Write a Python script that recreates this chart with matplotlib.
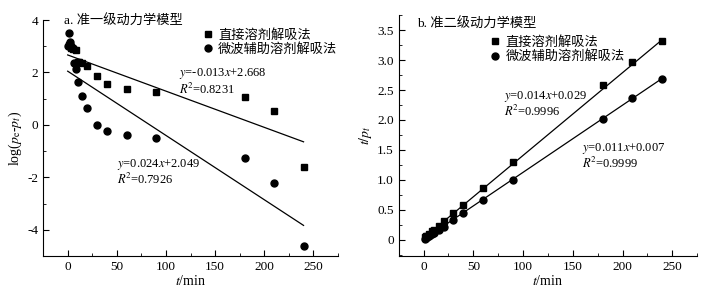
import matplotlib
matplotlib.use('Agg')
import matplotlib.pyplot as plt
from matplotlib.ticker import MultipleLocator, FuncFormatter
import numpy as np

plt.rcParams['font.family'] = ['Liberation Serif', 'Noto Sans CJK SC']
plt.rcParams['mathtext.fontset'] = 'stix'
plt.rcParams['axes.unicode_minus'] = False

# panel a: pseudo-first-order
ta_sq = [1, 2, 3, 5, 8, 10, 12, 15, 20, 30, 40, 60, 90, 180, 210, 240]
ya_sq = [3.05, 3.0, 2.95, 2.9, 2.85, 2.4, 2.4, 2.38, 2.23, 1.86, 1.57, 1.36, 1.26, 1.06, 0.52, -1.60]
ta_ci = [0, 1, 2, 3, 5, 6, 8, 10, 15, 20, 30, 40, 60, 90, 180, 210, 240]
ya_ci = [3.0, 3.51, 3.15, 3.0, 2.95, 2.38, 2.13, 1.62, 1.10, 0.63, 0.0, -0.24, -0.39, -0.49, -1.25, -2.22, -4.63]
fit_a = [(-0.0138, 2.668), (-0.0245, 2.049)]

# panel b: pseudo-second-order
tb_sq = [1, 2, 3, 5, 8, 10, 15, 20, 30, 40, 60, 90, 180, 210, 240]
yb_sq = [0.04, 0.06, 0.07, 0.10, 0.14, 0.16, 0.23, 0.31, 0.45, 0.59, 0.86, 1.30, 2.58, 2.97, 3.32]
tb_ci = [1, 2, 3, 5, 6, 8, 10, 15, 20, 30, 40, 60, 90, 180, 210, 240]
yb_ci = [0.02, 0.03, 0.05, 0.07, 0.08, 0.10, 0.12, 0.17, 0.22, 0.33, 0.45, 0.67, 1.00, 2.02, 2.36, 2.69]
fit_b = [(0.0138, 0.029), (0.0112, 0.007)]

labels = ['直接溶剂解吸法', '微波辅助溶剂解吸法']

fig = plt.figure(figsize=(7.07, 2.9), dpi=100)
ax1 = fig.add_axes([0.061, 0.117, 0.417, 0.814])
ax2 = fig.add_axes([0.564, 0.117, 0.422, 0.831])

def style(ax):
    for s in ['top', 'right']:
        ax.spines[s].set_visible(False)
    ax.tick_params(which='both', direction='in', labelsize=9.5)
    ax.tick_params(which='major', length=4)
    ax.tick_params(which='minor', length=2.5)
    ax.set_xlim(-25, 275)
    ax.xaxis.set_major_locator(MultipleLocator(50))
    ax.xaxis.set_minor_locator(MultipleLocator(25))
    ax.set_xlabel('$t$/min', fontsize=10, labelpad=1)

xs = np.array([0, 240])

# a
ax1.plot(ta_sq, ya_sq, 's', color='black', ms=4.5, label=labels[0])
ax1.plot(ta_ci, ya_ci, 'o', color='black', ms=5, label=labels[1])
for k, b in fit_a:
    ax1.plot(xs, k * xs + b, color='black', lw=0.9)
style(ax1)
ax1.set_ylim(-5, 4)
ax1.yaxis.set_major_locator(MultipleLocator(2))
ax1.yaxis.set_minor_locator(MultipleLocator(1))
ax1.set_ylabel(r'log($p_{\rm e}$-$p_t$)', fontsize=10, labelpad=2)
ax1.text(-4, 3.95, 'a. 准一级动力学模型', fontsize=9.5, va='center')
ax1.text(113, 1.95, '$y$=-0.013$x$+2.668', fontsize=9, va='center')
ax1.text(113, 1.36, r'$R^{\!2}$=0.8231', fontsize=9, va='center')
ax1.text(50, -1.52, '$y$=0.024$x$+2.049', fontsize=9, va='center')
ax1.text(50, -2.08, r'$R^{\!2}$=0.7926', fontsize=9, va='center')
ax1.legend(loc='upper left', bbox_to_anchor=(0.5, 1.0), frameon=False,
           fontsize=9.5, handletextpad=0.2, borderpad=0.2, labelspacing=0.1,
           handlelength=1.2)

# b
ax2.plot(tb_sq, yb_sq, 's', color='black', ms=4.5, label=labels[0])
ax2.plot(tb_ci, yb_ci, 'o', color='black', ms=5, label=labels[1])
for k, b in fit_b:
    ax2.plot(xs, k * xs + b, color='black', lw=0.9)
style(ax2)
ax2.set_ylim(-0.27, 3.75)
ax2.yaxis.set_major_locator(MultipleLocator(0.5))
ax2.yaxis.set_minor_locator(MultipleLocator(0.25))
ax2.yaxis.set_major_formatter(FuncFormatter(lambda v, p: '0' if abs(v) < 1e-9 else f'{v:.1f}'))
ax2.set_ylabel('$t/p_t$', fontsize=10, labelpad=2)
ax2.text(-7, 3.6, 'b. 准二级动力学模型', fontsize=9.5, va='center')
ax2.text(81, 2.40, '$y$=0.014$x$+0.029', fontsize=9, va='center')
ax2.text(81, 2.15, r'$R^{\!2}$=0.9996', fontsize=9, va='center')
ax2.text(159, 1.53, '$y$=0.011$x$+0.007', fontsize=9, va='center')
ax2.text(159, 1.27, r'$R^{\!2}$=0.9999', fontsize=9, va='center')
ax2.legend(loc='upper left', bbox_to_anchor=(0.265, 0.95), frameon=False,
           fontsize=9.5, handletextpad=0.2, borderpad=0.2, labelspacing=0.1,
           handlelength=1.2)

fig.savefig('out.png', dpi=100)
